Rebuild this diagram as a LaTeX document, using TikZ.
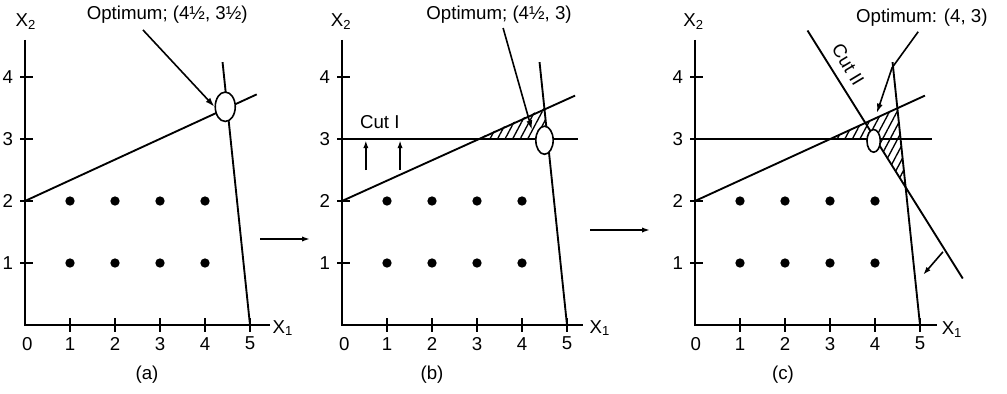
\documentclass[tikz,border=0pt]{standalone}
\usepackage{fontspec}
\setmainfont{Liberation Sans}
\usetikzlibrary{arrows.meta,shapes.geometric,patterns.meta}

\begin{document}
\begin{tikzpicture}[
  x=0.75pt,y=-0.75pt,
  panel/.style={x=33.75pt,y=46.5pt},
  axis/.style={line width=1.5pt},
  cons/.style={line width=1.4pt},
  tick/.style={line width=1.2pt},
  lbl/.style={font=\fontsize{14}{16}\selectfont,inner sep=1pt},
  lattice/.style={circle,fill=black,inner sep=0pt,minimum size=7pt},
  optmark/.style={ellipse,draw,line width=1.2pt,fill=white,inner sep=0pt},
  ptr/.style={-{Latex[length=7pt,width=4.5pt]},line width=1.2pt},
  flow/.style={-{Latex[length=6pt,width=4pt]},line width=1.2pt},
  hatch/.style={pattern={Lines[angle=62,distance=5pt,line width=1pt]}}
]
\useasboundingbox (0,0) rectangle (1007,393);

% (a) LP optimum
\begin{scope}[shift={(25,325)},panel]
\draw[axis] (0,4.6) -- (0,0) -- (5.45,0);
\foreach \i in {1,...,5} {
  \draw[tick] (\i,-0.11) -- (\i,0.11);
  \node[lbl] (a-xt\i) at (\i,-0.3) {\i};
}
\foreach \i in {1,...,4} {
  \draw[tick] (-0.11,\i) -- (0.18,\i);
  \node[lbl] (a-yt\i) at (-0.38,\i) {\i};
}
\node[lbl] (a-xt0) at (0.05,-0.3) {0};
\node[lbl] (a-x1) at (5.73,-0.05) {X\textsubscript{1}};
\node[lbl] (a-x2) at (0.02,4.89) {X\textsubscript{2}};
\foreach \i in {1,...,4}
  \foreach \j in {1,2}
    \node[lattice] (a-p\i\j) at (\i,\j) {};
\draw[cons] (0,2) -- (5.15,3.72);
\draw[cons] (5,0) -- (4.39,4.24);
\node[optmark,minimum width=15pt,minimum height=22pt] (a-opt) at (4.45,3.52) {};
\node[lbl] (a-lab) at (3.16,5.0) {Optimum; (4½, 3½)};
\coordinate (a-from) at (2.62,4.76);
\draw[ptr] (a-from) -- (a-opt.west);
\end{scope}

% (b) after cut I
\begin{scope}[shift={(342,325)},panel]
\fill[hatch] (3,3) -- (4.5,3.5) -- (4.571,3) -- cycle;
\draw[axis] (0,4.6) -- (0,0) -- (5.36,0);
\foreach \i in {1,...,5} {
  \draw[tick] (\i,-0.11) -- (\i,0.11);
  \node[lbl] (b-xt\i) at (\i,-0.3) {\i};
}
\foreach \i in {1,...,4} {
  \draw[tick] (-0.11,\i) -- (0.18,\i);
  \node[lbl] (b-yt\i) at (-0.38,\i) {\i};
}
\node[lbl] (b-xt0) at (0.05,-0.3) {0};
\node[lbl] (b-x1) at (5.73,-0.05) {X\textsubscript{1}};
\node[lbl] (b-x2) at (-0.02,4.89) {X\textsubscript{2}};
\foreach \i in {1,...,4}
  \foreach \j in {1,2}
    \node[lattice] (b-p\i\j) at (\i,\j) {};
\draw[cons] (0,2) -- (5.18,3.7);
\draw[cons] (5,0) -- (4.39,4.24);
\draw[cons] (0,3) -- (5.24,3);
\node[lbl] (b-cut) at (0.84,3.27) {Cut I};
\foreach \u [count=\k] in {0.53,1.29} {
  \coordinate (b-s\k) at (\u,2.5);
  \coordinate (b-e\k) at (\u,2.98);
  \draw[flow] (b-s\k) -- (b-e\k);
}
\node[optmark,minimum width=13pt,minimum height=21pt] (b-opt) at (4.5,2.98) {};
\node[lbl] (b-lab) at (3.49,5.0) {Optimum; (4½, 3)};
\coordinate (b-from) at (3.58,4.79);
\coordinate (b-tip) at (4.22,3.15);
\draw[ptr] (b-from) -- (b-tip);
\end{scope}

% (c) after cut II
\begin{scope}[shift={(695,325)},panel]
\fill[hatch] (3,3) -- (4.5,3.5) -- (4.69,2.2) -- (4,3) -- cycle;
\draw[axis] (0,4.6) -- (0,0) -- (5.38,0);
\foreach \i in {1,...,5} {
  \draw[tick] (\i,-0.11) -- (\i,0.11);
  \node[lbl] (c-xt\i) at (\i,-0.3) {\i};
}
\foreach \i in {1,...,4} {
  \draw[tick] (-0.11,\i) -- (0.18,\i);
  \node[lbl] (c-yt\i) at (-0.38,\i) {\i};
}
\node[lbl] (c-xt0) at (0.02,-0.3) {0};
\node[lbl] (c-x1) at (5.71,-0.08) {X\textsubscript{1}};
\node[lbl] (c-x2) at (-0.03,4.89) {X\textsubscript{2}};
\foreach \i in {1,...,4}
  \foreach \j in {1,2}
    \node[lattice] (c-p\i\j) at (\i,\j) {};
\draw[cons] (0,2) -- (5.11,3.7);
\draw[cons] (5,0) -- (4.39,4.24);
\draw[cons] (0,3) -- (5.27,3);
\draw[cons] (2.5,4.75) -- (5.95,0.75);
\node[lbl,rotate=-59] (c-cut) at (3.4,4.2) {Cut II};
\coordinate (c-n1) at (5.51,1.18);
\coordinate (c-n2) at (5.07,0.81);
\draw[flow] (c-n1) -- (c-n2);
\node[optmark,minimum width=10pt,minimum height=17pt] (c-opt) at (3.97,2.97) {};
\node[lbl] (c-lab) at (5.04,4.95) {Optimum: (4, 3)};
\coordinate (c-from) at (4.96,4.73);
\coordinate (c-bend) at (4.38,4.15);
\coordinate (c-tip) at (4.04,3.42);
\draw[ptr] (c-from) -- (c-bend) -- (c-tip);
\end{scope}

% panel captions and steps
\node[lbl] (cap-a) at (147,375) {(a)};
\node[lbl] (cap-b) at (432,375) {(b)};
\node[lbl] (cap-c) at (783,375) {(c)};
\coordinate (ab-s) at (260,239);
\coordinate (ab-e) at (310,239);
\coordinate (bc-s) at (590,230);
\coordinate (bc-e) at (650,230);
\draw[flow] (ab-s) -- (ab-e);
\draw[flow] (bc-s) -- (bc-e);
\end{tikzpicture}
\end{document}
